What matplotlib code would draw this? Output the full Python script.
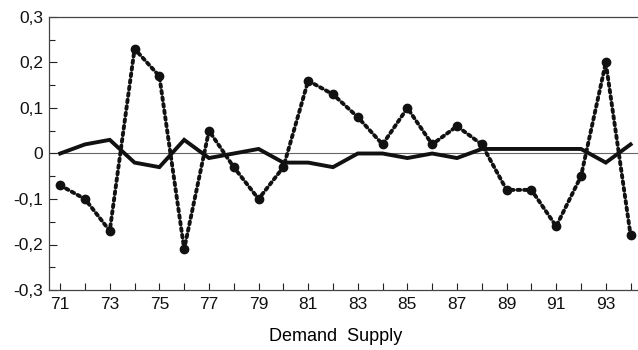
import matplotlib.pyplot as plt
from matplotlib.ticker import MultipleLocator, FuncFormatter

plt.rcParams['font.family'] = ['Liberation Sans', 'DejaVu Sans']

years = list(range(1971, 1995))

# dotted series with markers
demand = [-0.07, -0.10, -0.17, 0.23, 0.17, -0.21, 0.05, -0.03, -0.10, -0.03,
          0.16, 0.13, 0.08, 0.02, 0.10, 0.02, 0.06, 0.02, -0.08, -0.08,
          -0.16, -0.05, 0.20, -0.18]

# solid series
supply = [0.00, 0.02, 0.03, -0.02, -0.03, 0.03, -0.01, 0.00, 0.01, -0.02,
          -0.02, -0.03, 0.00, 0.00, -0.01, 0.00, -0.01, 0.01, 0.01, 0.01,
          0.01, 0.01, -0.02, 0.02]

x = [y - 1900 for y in years]

fig = plt.figure(figsize=(6.38, 3.5), dpi=100)
ax = fig.add_axes([49 / 638, 60 / 350, 594 / 638, 273 / 350])

ax.axhline(0, color='#666666', lw=0.8, zorder=1)
ax.plot(x, supply, color='#111111', lw=2.8, solid_joinstyle='miter', zorder=3)
ax.plot(x, demand, color='#111111', lw=2.8, linestyle=(0, (0.7, 1.0)),
        dash_capstyle='round', zorder=2)
ax.plot(x, demand, 'o', color='#111111', ms=6, zorder=4)

ax.set_xlim(70.55, 94.5)
ax.set_ylim(-0.3, 0.3)

ax.set_xticks(range(71, 95, 2))
ax.xaxis.set_minor_locator(MultipleLocator(1))
ax.yaxis.set_major_locator(MultipleLocator(0.1))
ax.yaxis.set_minor_locator(MultipleLocator(0.05))


def comma(v, pos):
    if abs(v) < 1e-9:
        return '0'
    return ('%.1f' % v).replace('.', ',')


ax.yaxis.set_major_formatter(FuncFormatter(comma))

ax.tick_params(which='both', direction='in', colors='#222222', width=0.8,
               labelsize=12.5, labelcolor='#111111')
ax.tick_params(which='major', length=6)
ax.tick_params(which='minor', length=4)
ax.tick_params(axis='x', which='both', length=5, pad=5)
ax.tick_params(axis='y', pad=4)

for s in ['left', 'bottom', 'top']:
    ax.spines[s].set_color('#444444')
    ax.spines[s].set_linewidth(0.9)
ax.spines['right'].set_visible(False)

ax.set_xlabel('Demand  Supply', fontsize=13)
ax.xaxis.set_label_coords(0.483, -0.14)

fig.savefig('out.png', dpi=100)
